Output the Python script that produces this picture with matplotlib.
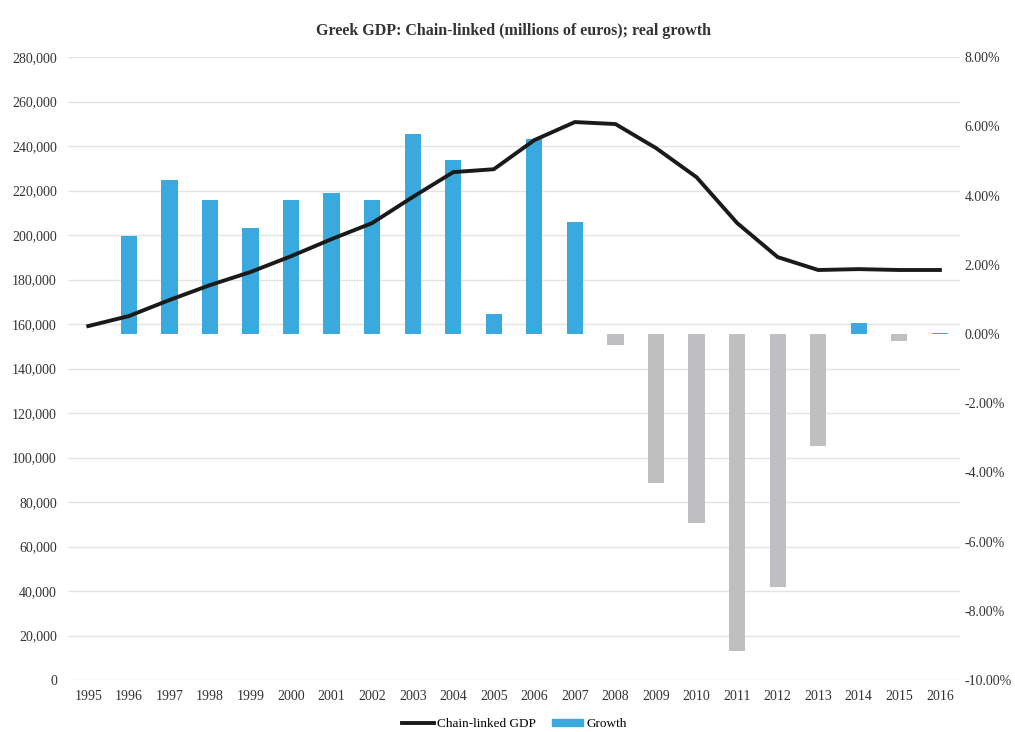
import matplotlib.pyplot as plt
from matplotlib.lines import Line2D
from matplotlib.patches import Patch
import numpy as np

years = [str(y) for y in range(1995, 2017)]

# chain-linked GDP, millions of euros
gdp = [159100, 163600, 170800, 177500, 183400, 190500, 198200, 205400,
       217100, 228300, 229600, 242700, 250800, 249900, 239100, 226000,
       205400, 190100, 184300, 184700, 184300, 184300]

# real growth, percent (no figure for 1995)
growth = [np.nan, 2.83, 4.45, 3.87, 3.06, 3.87, 4.07, 3.87,
          5.78, 5.03, 0.58, 5.64, 3.24, -0.33, -4.31, -5.46,
          -9.16, -7.31, -3.24, 0.33, -0.20, 0.03]

blue = '#3aa9de'
grey = '#bfbfc1'
plt.rcParams['font.family'] = ['Liberation Serif', 'DejaVu Serif']

fig = plt.figure(figsize=(10.15, 7.32), dpi=100)
ax = fig.add_axes([0.067, 0.071, 0.879, 0.851])   # left scale + grid
ax2 = ax.twinx()                                 # growth bars, right scale
ax3 = ax.twinx()                                 # GDP line on top

x = np.arange(len(years))
g = np.nan_to_num(np.array(growth))
colors = [blue if v >= 0 else grey for v in g]
ax2.bar(x, g, width=0.4, color=colors)

ax3.plot(x, gdp, color='#1a1a1a', lw=2.8)
ax3.set_ylim(0, 280000)
ax3.set_yticks([])

ax.set_ylim(0, 280000)
ax.set_yticks(range(0, 280001, 20000))
ax.set_yticklabels([f'{v:,}' for v in range(0, 280001, 20000)])
ax.yaxis.grid(True, color='#e3e3e3', lw=1)
ax.set_xlim(-0.5, len(years) - 0.5)
ax.set_xticks(x)
ax.set_xticklabels(years)

ax2.set_ylim(-10, 8)
ax2.set_yticks(range(-10, 9, 2))
ax2.set_yticklabels([f'{v:.2f}%' for v in range(-10, 9, 2)])

for a in (ax, ax2, ax3):
    for s in a.spines.values():
        s.set_visible(False)
    a.tick_params(length=0, labelsize=10, colors='#333333')
ax.tick_params(axis='y', pad=8)
ax2.tick_params(axis='y', pad=3)
ax.tick_params(axis='x', pad=7)

fig.text(0.506, 0.958, 'Greek GDP: Chain-linked (millions of euros); real growth',
         ha='center', va='center', fontsize=11.5, fontweight='bold', color='#333333')

handles = [Line2D([0], [0], color='#1a1a1a', lw=2.8),
           Patch(color=blue)]
fig.legend(handles, ['Chain-linked GDP', 'Growth'], loc='center',
           bbox_to_anchor=(0.507, 0.011), ncol=2, frameon=False, fontsize=9.5,
           handlelength=2.4, handleheight=0.45, handletextpad=0.25,
           columnspacing=1.2)

fig.savefig('out.png', dpi=100, facecolor='white')
